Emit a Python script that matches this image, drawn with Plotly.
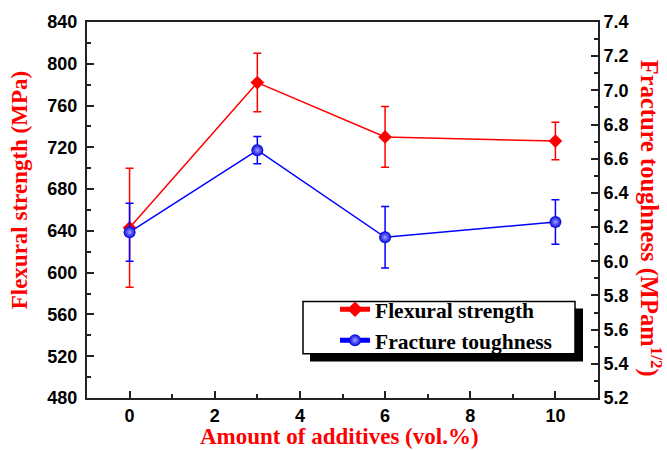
import plotly.graph_objects as go

additives = [0, 3, 6, 10]
flex_strength = [643, 782, 730, 726]
flex_err = [57, 28, 29, 18]
toughness = [6.17, 6.65, 6.14, 6.23]
tough_err = [0.17, 0.08, 0.18, 0.13]

x_ticks = [0, 2, 4, 6, 8, 10]
left_ticks = [480, 520, 560, 600, 640, 680, 720, 760, 800, 840]
right_ticks = [5.2, 5.4, 5.6, 5.8, 6.0, 6.2, 6.4, 6.6, 6.8, 7.0, 7.2, 7.4]

W, H = 667, 450
L, R, T, B = 87, 69, 16, 52
pw, ph = W - L - R, H - T - B

def px2paper_x(px):
    return (px - L) / pw

def px2paper_y(py):
    return (H - B - py) / ph

RED = "#ff0000"
BLUE = "#0000ff"
AX = "#222222"
tickfont = dict(family="Liberation Sans", size=18, color="black", weight="bold")
serif_red = dict(family="Liberation Serif", size=23, color=RED, weight="bold")

fig = go.Figure()
fig.add_trace(go.Scatter(
    x=additives, y=flex_strength, name="<b>Flexural strength</b>",
    mode="lines+markers",
    line=dict(color=RED, width=1.5),
    marker=dict(symbol="diamond", size=10.5, color=RED),
    error_y=dict(type="data", array=flex_err, color=RED, thickness=1.5, width=4),
    yaxis="y",
))
fig.add_trace(go.Scatter(
    x=additives, y=toughness, name="<b>Fracture toughness</b>",
    mode="lines+markers",
    line=dict(color=BLUE, width=1.5),
    marker=dict(symbol="circle", size=12, color="#0000e0",
                gradient=dict(type="radial", color="#a0a0ff"),
                line=dict(width=0)),
    error_y=dict(type="data", array=tough_err, color=BLUE, thickness=1.5, width=4),
    yaxis="y2",
))

fig.update_layout(
    width=W, height=H,
    margin=dict(l=L, r=R, t=T, b=B),
    paper_bgcolor="white", plot_bgcolor="white",
    xaxis=dict(range=[-1, 11], tickvals=x_ticks, ticks="inside", ticklen=7, tickwidth=1.5,
               tickcolor=AX, showline=True, linecolor=AX, linewidth=2, mirror=True,
               showgrid=False, zeroline=False, tickfont=tickfont,
               minor=dict(ticks="inside", ticklen=4, dtick=1, tickcolor=AX, tickwidth=1.5)),
    yaxis=dict(range=[480, 840], tickvals=left_ticks, ticks="inside", ticklen=7, tickwidth=1.5,
               tickcolor=AX, showline=True, linecolor=AX, linewidth=2,
               showgrid=False, zeroline=False, tickfont=tickfont, ticklabelstandoff=4,
               minor=dict(ticks="inside", ticklen=4, dtick=20, tickcolor=AX, tickwidth=1.5)),
    yaxis2=dict(range=[5.2, 7.4], tickvals=right_ticks, tickformat=".1f", overlaying="y", side="right",
                ticks="inside", ticklen=7, tickwidth=1.5, tickcolor=AX,
                showline=True, linecolor=AX, linewidth=2,
                showgrid=False, zeroline=False, tickfont=tickfont,
                minor=dict(ticks="inside", ticklen=4, dtick=0.1, tickcolor=AX, tickwidth=1.5)),
    showlegend=True,
    legend=dict(x=px2paper_x(303), y=px2paper_y(287), xanchor="left", yanchor="top",
                bgcolor="rgba(0,0,0,0)", borderwidth=0,
                font=dict(family="Liberation Serif", size=21.5, color="black"),
                tracegroupgap=0, itemsizing="constant", indentation=32),
    annotations=[
        dict(text="Amount of additives (vol.%)", xref="paper", yref="paper",
             x=px2paper_x(339), y=px2paper_y(437), showarrow=False, font=serif_red,
             xanchor="center", yanchor="middle"),
        dict(text="Flexural strength (MPa)", xref="paper", yref="paper",
             x=px2paper_x(19), y=px2paper_y(187), showarrow=False, font=serif_red,
             textangle=-90, xanchor="center", yanchor="middle"),
        dict(text="Fracture toughness (MPam<sup>1/2</sup>)", xref="paper", yref="paper",
             x=px2paper_x(650), y=px2paper_y(215), showarrow=False,
             font=dict(family="Liberation Serif", size=24.5, color=RED, weight="bold"),
             textangle=90, xanchor="center", yanchor="middle"),
    ],
    shapes=[
        # legend drop shadow
        dict(type="rect", xref="paper", yref="paper",
             x0=px2paper_x(310), x1=px2paper_x(583), y0=px2paper_y(361), y1=px2paper_y(307),
             fillcolor="black", line=dict(width=0), layer="above"),
        # legend frame
        dict(type="rect", xref="paper", yref="paper",
             x0=px2paper_x(303), x1=px2paper_x(575), y0=px2paper_y(353), y1=px2paper_y(300),
             fillcolor="white", line=dict(color="black", width=1.5), layer="above"),
    ],
)

fig.write_html("out.html")
